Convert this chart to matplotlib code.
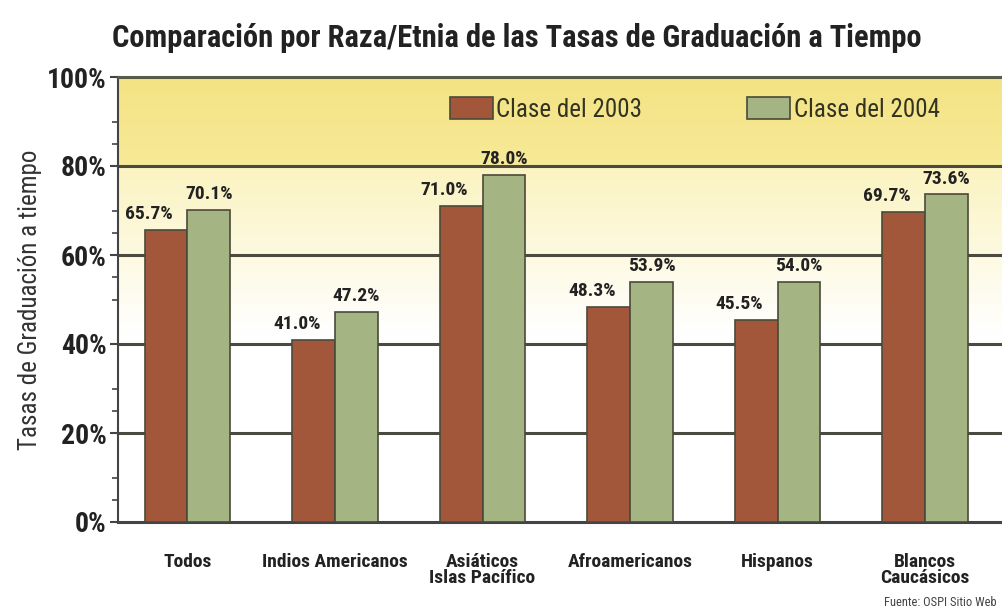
import numpy as np
import matplotlib
matplotlib.use("Agg")
import matplotlib.pyplot as plt
from matplotlib.colors import to_rgb

categories = ["Todos", "Indios Americanos", "Asiáticos\nIslas Pacífico",
              "Afroamericanos", "Hispanos", "Blancos\nCaucásicos"]
clase_2003 = [65.7, 41.0, 71.0, 48.3, 45.5, 69.7]
clase_2004 = [70.1, 47.2, 78.0, 53.9, 54.0, 73.6]
series_names = ["Clase del 2003", "Clase del 2004"]
yticks = [0, 20, 40, 60, 80, 100]
ytick_labels = ["0%", "20%", "40%", "60%", "80%", "100%"]

FONT = ["Liberation Sans Narrow", "Roboto Condensed", "DejaVu Sans"]
plt.rcParams['font.family'] = FONT

c03 = "#a3573a"
c04 = "#a4b482"
edge = "#4a4a3a"

fig = plt.figure(figsize=(10.02, 6.15), dpi=100)
ax = fig.add_axes([118/1002, 1-522/615, 1-118/1002, (522-77)/615])

xmin, xmax = -0.47, 5.52
ax.set_xlim(xmin, xmax)
ax.set_ylim(0, 100)

# background gradient
ys = np.linspace(0, 100, 400)
top_a, top_b = np.array(to_rgb("#f4e384")), np.array(to_rgb("#f7ea98"))
mid_a, white = np.array(to_rgb("#fbf3c0")), np.array([1, 1, 1])
cols = []
for y in ys:
    if y >= 80:
        t = (y - 80) / 20
        cols.append(top_b * (1 - t) + top_a * t)
    elif y >= 42:
        t = (y - 42) / 38
        cols.append(white * (1 - t) + mid_a * t)
    else:
        cols.append(white)
img = np.array(cols)[:, None, :]
ax.imshow(img, extent=[xmin, xmax, 0, 100], origin="lower", aspect="auto", zorder=0)

for yv in [20, 40, 60, 80]:
    ax.axhline(yv, color="#4a4a40", lw=2.2, zorder=1)

x = np.arange(len(categories))
w = 0.29
b1 = ax.bar(x - w/2, clase_2003, w, color=c03, edgecolor=edge, linewidth=1.2, zorder=3)
b2 = ax.bar(x + w/2, clase_2004, w, color=c04, edgecolor=edge, linewidth=1.2, zorder=3)

for xi, v in zip(x, clase_2003):
    ax.annotate(f"{v:.1f}%", (xi - w/2, v), xytext=(-12, 5), textcoords="offset points",
                ha="center", va="bottom", fontsize=14, fontweight="bold", color="#222222", zorder=5)
for xi, v in zip(x, clase_2004):
    ax.annotate(f"{v:.1f}%", (xi + w/2, v), xytext=(0, 5), textcoords="offset points",
                ha="center", va="bottom", fontsize=14, fontweight="bold", color="#222222", zorder=5)

ax.set_yticks(yticks)
ax.set_yticklabels(ytick_labels, fontsize=20, fontweight="bold", color="#222222")
ax.set_yticks([5, 10, 25, 30, 50, 55, 65, 70, 85, 90], minor=True)
ax.tick_params(axis="y", which="major", length=6, width=1.5, color="#444444", pad=2)
ax.tick_params(axis="y", which="minor", length=4, width=1.2, color="#444444")

ax.set_xticks(x)
ax.set_xticklabels(categories, fontsize=14, fontweight="bold", color="#222222", linespacing=0.9)
ax.tick_params(axis="x", length=0, pad=22)

ax.spines["right"].set_visible(False)
ax.spines["top"].set_color("#5a5a48")
ax.spines["top"].set_linewidth(2.2)
ax.spines["left"].set_color("#444444")
ax.spines["left"].set_linewidth(1.5)
ax.spines["bottom"].set_color("#444444")
ax.spines["bottom"].set_linewidth(2.2)

ax.set_ylabel("Tasas de Graduación a tiempo", fontsize=18, color="#333333", labelpad=4)

leg = ax.legend([b1, b2], series_names, loc="upper right", bbox_to_anchor=(0.952, 1.0),
                ncol=2, frameon=False, fontsize=18, handlelength=1.7, handleheight=1.0,
                columnspacing=4.2, handletextpad=0.15, borderaxespad=0.4)
for t in leg.get_texts():
    t.set_color("#333322")

fig.text(517/1002, 1-38/615, "Comparación por Raza/Etnia de las Tasas de Graduación a Tiempo",
         ha="center", va="center", fontsize=22, fontweight="bold", color="#222222")
fig.text(0.995, 1-603/615, "Fuente: OSPI Sitio Web", ha="right", va="center",
         fontsize=9, color="#444444")

fig.savefig("out.png", dpi=100)
